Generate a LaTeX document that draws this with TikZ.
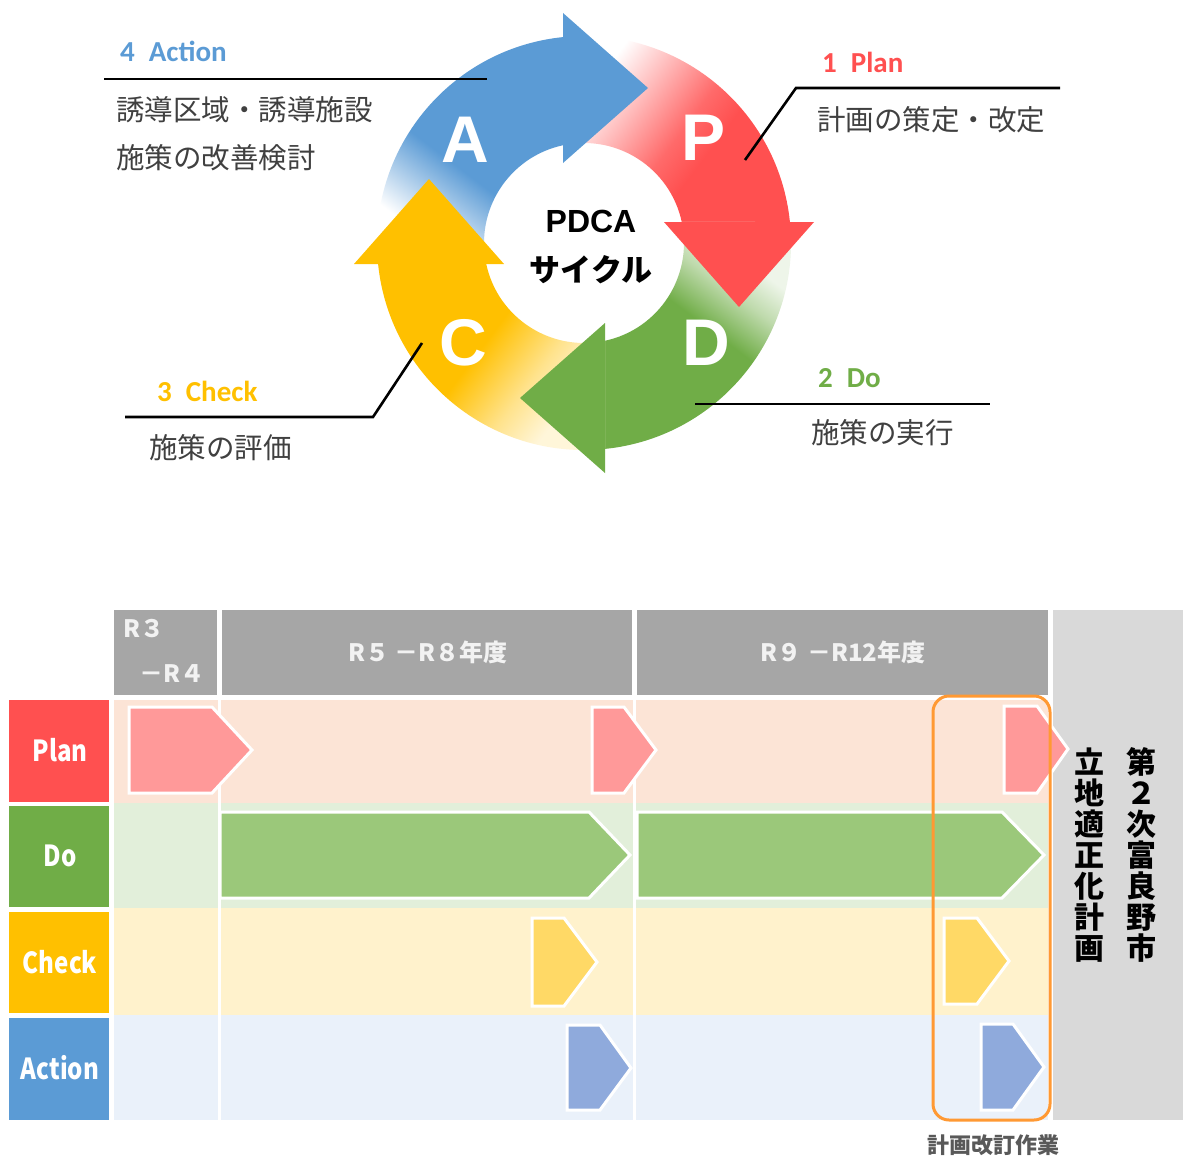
\documentclass[tikz,border=0pt]{standalone}
\usepackage{fontspec}
\setmainfont{Liberation Sans}
\newfontfamily\jp{Noto Sans CJK JP}
\newfontfamily\carl{Carlito}
\definecolor{cblue}{HTML}{5B9BD5}
\definecolor{cred}{HTML}{FF5050}
\definecolor{cgreen}{HTML}{70AD47}
\definecolor{cyellow}{HTML}{FFC000}
\definecolor{tgray}{HTML}{404040}
\definecolor{hgray}{HTML}{A6A6A6}
\definecolor{pgray}{HTML}{D9D9D9}
\definecolor{bgplan}{HTML}{FCE4D6}
\definecolor{bgdo}{HTML}{E2EFDA}
\definecolor{bgcheck}{HTML}{FFF2CC}
\definecolor{bgaction}{HTML}{EAF1FA}
\definecolor{arplan}{HTML}{FF9999}
\definecolor{ardo}{HTML}{9BC87A}
\definecolor{archeck}{HTML}{FFD966}
\definecolor{araction}{HTML}{8FAADC}
\definecolor{corange}{HTML}{FF9933}
\definecolor{notegray}{HTML}{595959}
\definecolor{htext}{HTML}{F2F2F2}
\pgfdeclareverticalshading{fadeblue}{100bp}{color(0bp)=(white); color(28bp)=(white); color(37bp)=(cblue!50); color(46bp)=(cblue); color(100bp)=(cblue)}
\pgfdeclareverticalshading{fadered}{100bp}{color(0bp)=(white); color(29bp)=(white); color(40bp)=(cred!40); color(52bp)=(cred!85); color(60bp)=(cred); color(100bp)=(cred)}
\pgfdeclareverticalshading{fadegreen}{100bp}{color(0bp)=(cgreen!12); color(30bp)=(cgreen!12); color(38bp)=(cgreen!45); color(48bp)=(cgreen); color(100bp)=(cgreen)}
\pgfdeclareverticalshading{fadeyellow}{100bp}{color(0bp)=(cyellow!15); color(30bp)=(cyellow!15); color(40bp)=(cyellow!45); color(54bp)=(cyellow); color(100bp)=(cyellow)}
\tikzset{
  lead/.style={line width=2.6pt, black},
  parrow/.style={draw=white, line width=3pt, line join=miter},
  bigletter/.style={text=white, inner sep=0pt, font=\bfseries\fontsize{66}{70}\selectfont},
  jtext/.style={anchor=west, inner sep=0pt, text=tgray, font=\jp\fontsize{28.5}{30}\selectfont},
  ttl/.style={anchor=base west, inner sep=0pt, font=\carl\bfseries\fontsize{29}{31}\selectfont},
  rowlabel/.style={text=white, inner sep=0pt, xscale=0.83, font=\jp\bfseries\fontsize{29}{31}\selectfont},
  htxt/.style={text=htext, inner sep=0pt, font=\jp\bfseries\fontsize{24}{26}\selectfont},
  vtxt/.style={align=center, inner sep=0pt, font=\jp\bfseries\fontsize{30}{31}\selectfont}
}
\begin{document}
\begin{tikzpicture}[x=1pt,y=-1pt]
\useasboundingbox (0,0) rectangle (1183,1156);
\fill[white] (0,0) rectangle (1183,1156);

% ---------------- PDCA ring ----------------
\begin{scope}[shift={(584,243)}, y=1pt]
  % bands
  \shade[shading=fadeblue, shading angle=-37]
    (-205.93,-21) arc[start angle=185.82, end angle=95.82, radius=207]
    -- (-21,97.77) arc[start angle=102.13, end angle=192.13, radius=100] -- cycle;
  \shade[shading=fadered, shading angle=-127]
    (-21,205.93) arc[start angle=95.82, end angle=5.82, radius=207]
    -- (97.77,21) arc[start angle=12.13, end angle=102.13, radius=100] -- cycle;
  \shade[shading=fadegreen, shading angle=143]
    (205.93,21) arc[start angle=5.82, end angle=-84.18, radius=207]
    -- (21,-97.77) arc[start angle=-77.87, end angle=12.13, radius=100] -- cycle;
  \shade[shading=fadeyellow, shading angle=53]
    (21,-205.93) arc[start angle=-84.18, end angle=-174.18, radius=207]
    -- (-97.77,-21) arc[start angle=-167.87, end angle=-77.87, radius=100] -- cycle;
  % heads
  \fill[cblue] (-21,80) -- (-21,230) -- (64,155) -- cycle;
  \fill[cred] (80,21) -- (230,21) -- (155,-64) -- cycle;
  \fill[cgreen] (21,-80) -- (21,-230) -- (-64,-155) -- cycle;
  \fill[cyellow] (-80,-21) -- (-230,-21) -- (-155,64) -- cycle;
\end{scope}

\node[bigletter] (lA) at (465,140) {A};
\node[bigletter] (lP) at (704,138) {P};
\node[bigletter] (lD) at (706,343) {D};
\node[bigletter] (lC) at (463,343) {C};

\node[inner sep=0pt, font=\bfseries\fontsize{32}{34}\selectfont] (pdca) at (591,221) {PDCA};
\node[inner sep=0pt, font=\jp\bfseries\fontsize{31}{33}\selectfont] (cyc) at (591,270) {サイクル};

% leader lines
\coordinate (a1) at (104,79); \coordinate (a2) at (487,79);
\draw[lead] (a1) -- (a2);
\coordinate (p1) at (745,160); \coordinate (p2) at (796,88); \coordinate (p3) at (1060,88);
\draw[lead, line join=miter] (p1) -- (p2) -- (p3);
\coordinate (d1) at (695,404); \coordinate (d2) at (990,404);
\draw[lead] (d1) -- (d2);
\coordinate (c1) at (125,417); \coordinate (c2) at (373,417); \coordinate (c3) at (422,343);
\draw[lead, line join=miter] (c1) -- (c2) -- (c3);

% titles
\node[ttl, text=cblue] (tA) at (120,62) {4\hspace{14pt}Action};
\node[ttl, text=cred] (tP) at (822,72) {1\hspace{14pt}Plan};
\node[ttl, text=cgreen] (tD) at (818,387) {2\hspace{14pt}Do};
\node[ttl, text=cyellow] (tC) at (157,401) {3\hspace{14pt}Check};

% descriptions
\node[jtext] (xA1) at (116,110) {誘導区域・誘導施設};
\node[jtext] (xA2) at (116,158) {施策の改善検討};
\node[jtext] (xP) at (817,120) {計画の策定・改定};
\node[jtext] (xD) at (811,433) {施策の実行};
\node[jtext] (xC) at (149,448) {施策の評価};

% ---------------- timeline ----------------
% header
\fill[hgray] (114,610) rectangle (217,695);
\fill[hgray] (222,610) rectangle (632,695);
\fill[hgray] (637,610) rectangle (1048,695);
\fill[pgray] (1053,610) rectangle (1183,1120);

% row backgrounds
\foreach \x/\xx in {114/218, 221/633, 636/1048}{
  \fill[bgplan] (\x,700) rectangle (\xx,803);
  \fill[bgdo] (\x,803) rectangle (\xx,908);
  \fill[bgcheck] (\x,908) rectangle (\xx,1015);
  \fill[bgaction] (\x,1015) rectangle (\xx,1120);
}

% row labels
\fill[cred] (9,700) rectangle (109,802);
\fill[cgreen] (9,806) rectangle (109,907);
\fill[cyellow] (9,912) rectangle (109,1013);
\fill[cblue] (9,1018) rectangle (109,1120);
\node[rowlabel] (rP) at (60,750) {Plan};
\node[rowlabel] (rD) at (60,856) {Do};
\node[rowlabel] (rC) at (60,962) {Check};
\node[rowlabel] (rA) at (60,1068) {Action};

% header texts
\node[htxt] (h1a) at (144,629) {R３};
\node[htxt] (h1b) at (172,674) {－R４};
\node[htxt] (h2) at (428,652) {R５ －R８年度};
\node[htxt] (h3) at (843,652) {R９ －R12年度};

% pentagon arrows
\fill[arplan, parrow] (129,707) -- (212,707) -- (252,750) -- (212,793) -- (129,793) -- cycle;
\fill[arplan, parrow] (592,707) -- (624,707) -- (656,750) -- (624,793) -- (592,793) -- cycle;
\fill[arplan, parrow] (1004,706) -- (1037,706) -- (1068,749) -- (1037,793) -- (1004,793) -- cycle;
\fill[ardo, parrow] (220,812) -- (589,812) -- (630,855) -- (589,898) -- (220,898) -- cycle;
\fill[ardo, parrow] (637,812) -- (1002,812) -- (1044,855) -- (1002,898) -- (637,898) -- cycle;
\fill[archeck, parrow] (532,918) -- (564,918) -- (597,962) -- (564,1006) -- (532,1006) -- cycle;
\fill[archeck, parrow] (944,918) -- (977,918) -- (1009,961) -- (977,1004) -- (944,1004) -- cycle;
\fill[araction, parrow] (567,1025) -- (600,1025) -- (631,1068) -- (600,1110) -- (567,1110) -- cycle;
\fill[araction, parrow] (981,1024) -- (1013,1024) -- (1044,1067) -- (1013,1110) -- (981,1110) -- cycle;

% orange box
\draw[corange, line width=3pt, rounded corners=16pt] (933,696) rectangle (1050,1120);
\node[inner sep=0pt, text=notegray, font=\jp\bfseries\fontsize{22}{24}\selectfont] (note) at (993,1145) {計画改訂作業};

% vertical title
\node[vtxt] (v1) at (1141,855) {第\\２\\次\\富\\良\\野\\市};
\node[vtxt] (v2) at (1089,855) {立\\地\\適\\正\\化\\計\\画};
\end{tikzpicture}
\end{document}
